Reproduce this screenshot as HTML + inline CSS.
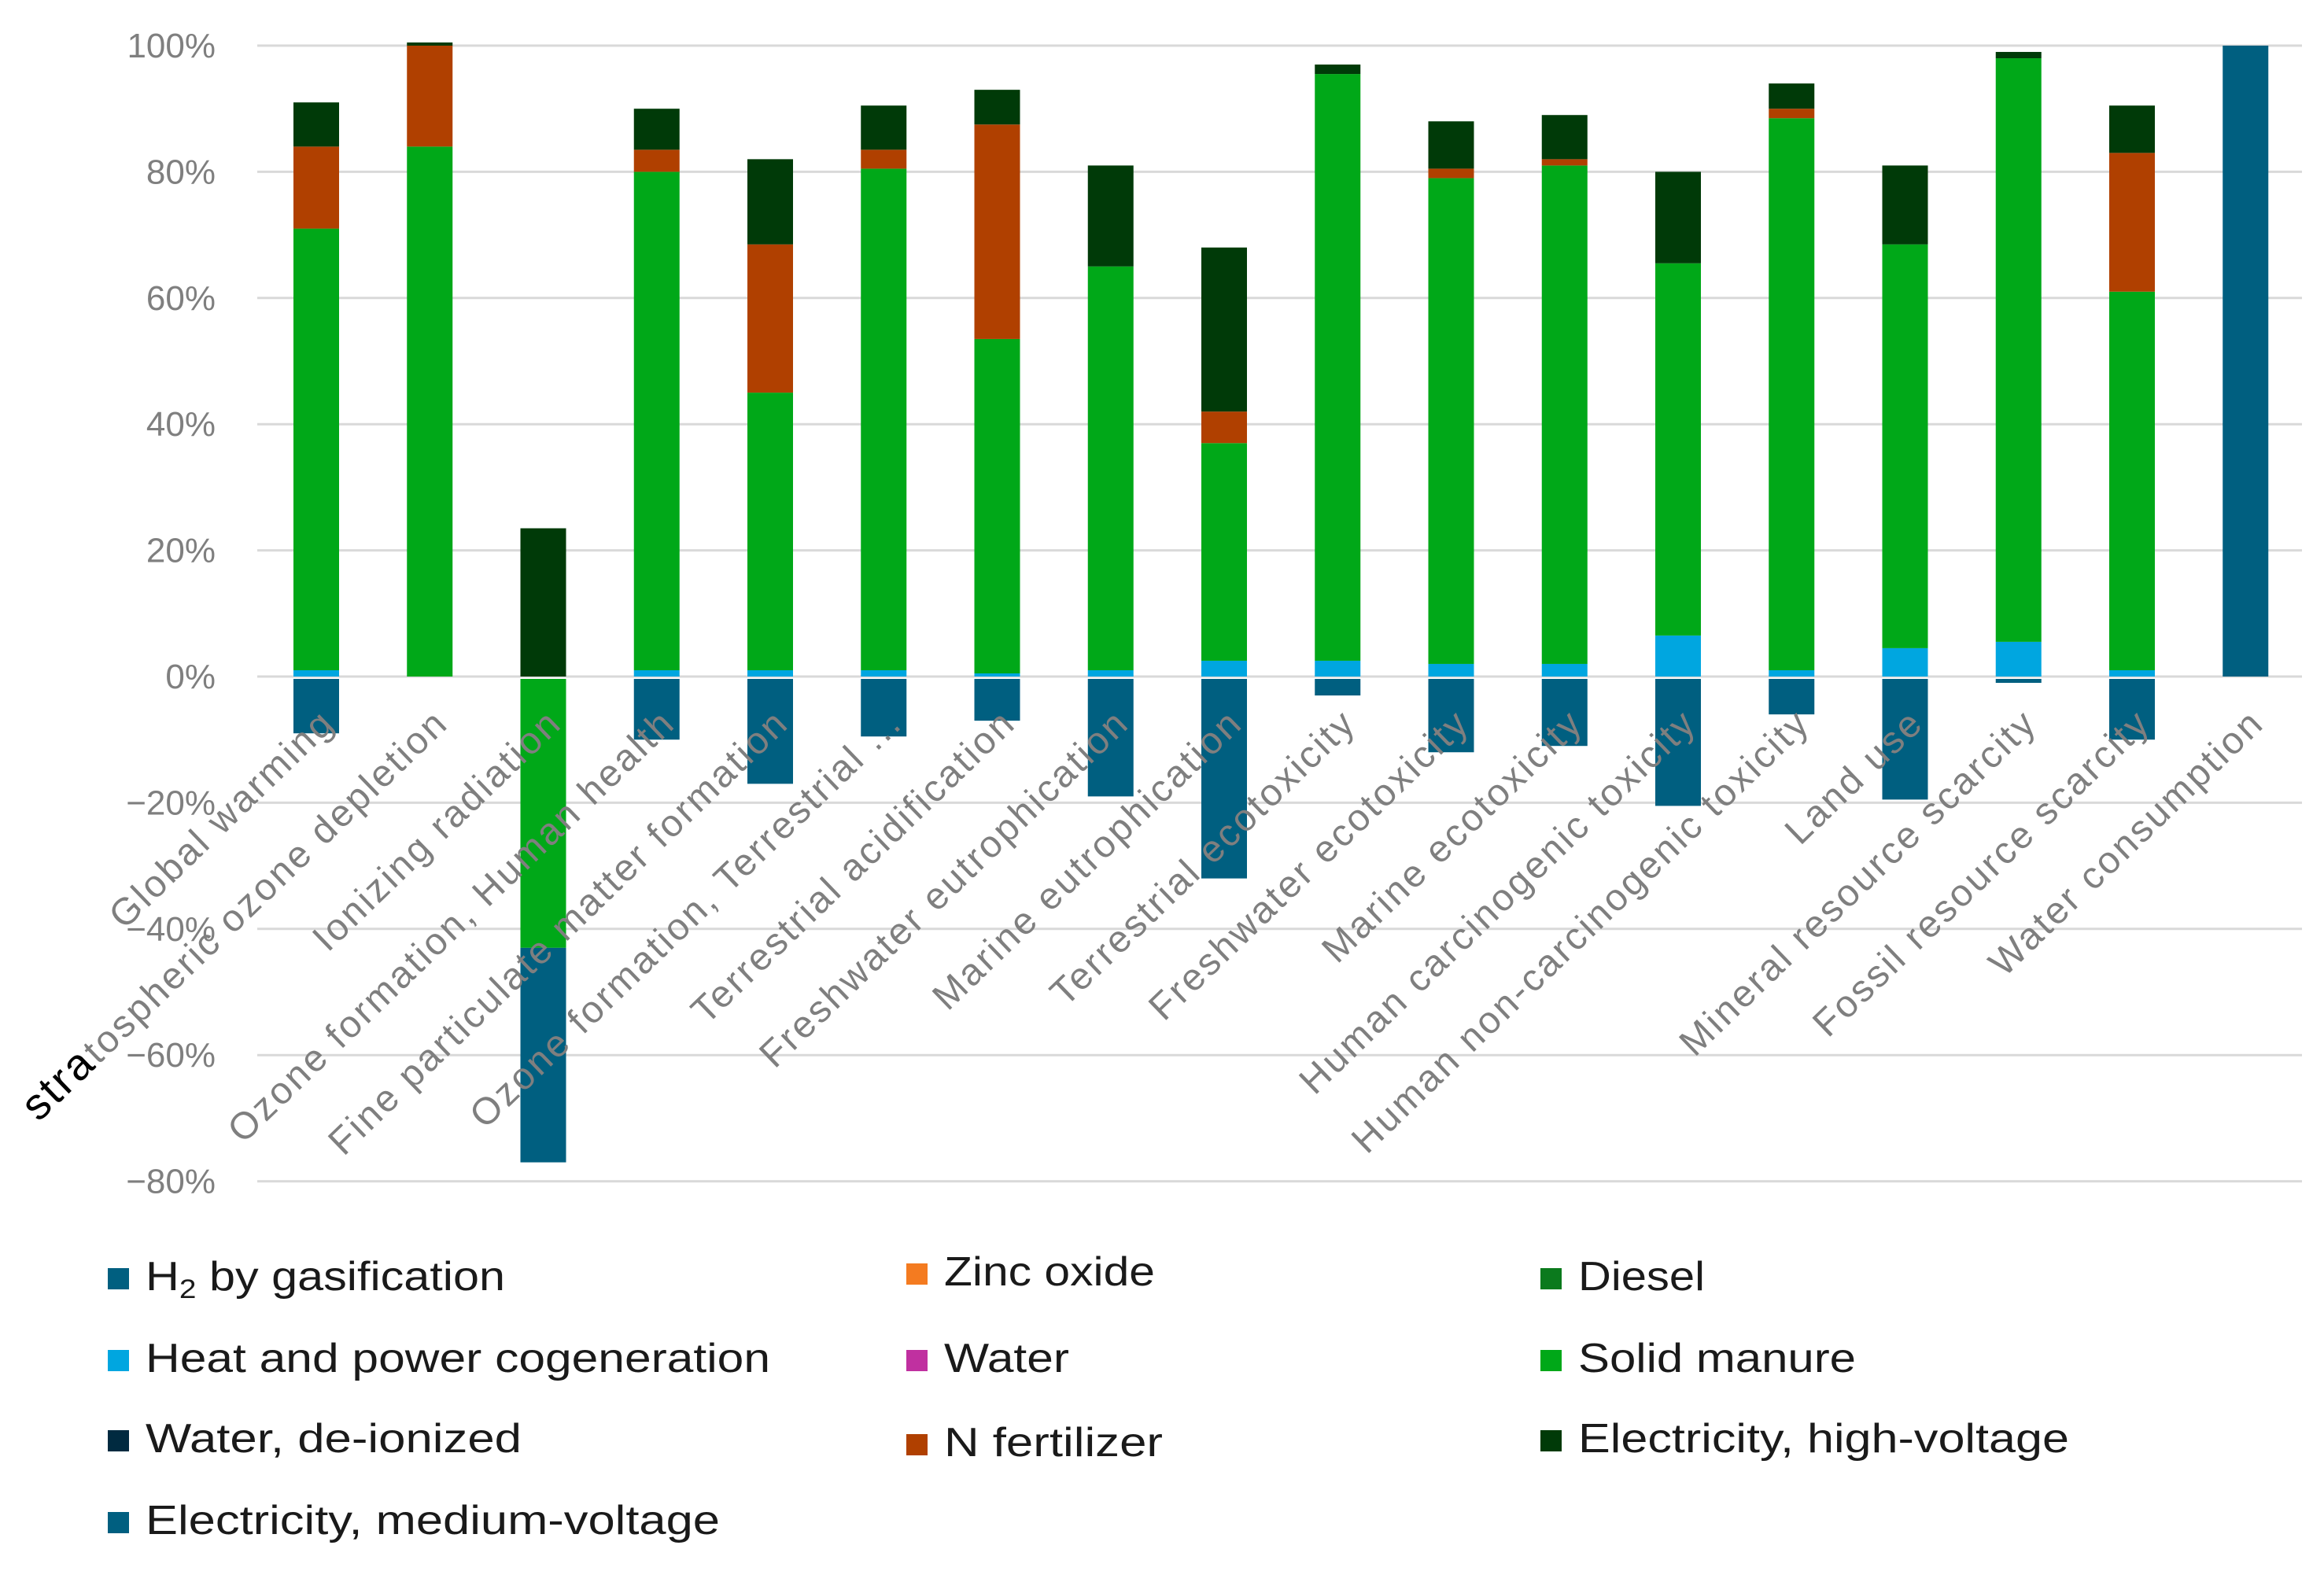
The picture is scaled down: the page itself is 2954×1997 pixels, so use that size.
<!DOCTYPE html>
<html><head><meta charset="utf-8"><style>
html,body{margin:0;padding:0;background:#fff;}
svg{display:block;font-family:"Liberation Sans",sans-serif;}
</style></head><body>
<svg id="chart" width="2954" height="1997" viewBox="0 0 2954 1997" xmlns="http://www.w3.org/2000/svg">
<g id="grid"></g>
<g id="yticks"></g>
<g id="bars"></g>
<g id="xlabels"></g>
<g id="legend"></g>
</svg>
<script>
const categories = ["Global warming","stratospheric ozone depletion","Ionizing radiation","Ozone formation, Human health","Fine particulate matter formation","Ozone formation, Terrestrial ...","Terrestrial acidification","Freshwater eutrophication","Marine eutrophication","Terrestrial ecotoxicity","Freshwater ecotoxicity","Marine ecotoxicity","Human carcinogenic toxicity","Human non-carcinogenic toxicity","Land use","Mineral resource scarcity","Fossil resource scarcity","Water consumption"];
const h2Gasification = [-9,0,-34,-10,-17,-9.5,-7,-19,-32,-3,-12,-11,-20.5,-6,-19.5,-1,-10,100];
const heatPower = [1,0,0,1,1,1,0.5,1,2.5,2.5,2,2,6.5,1,4.5,5.5,1,0];
const solidManure = [70,84,-43,79,44,79.5,53,64,34.5,93,77,79,59,87.5,64,92.5,60,0];
const nFertilizer = [13,16,0,3.5,23.5,3,34,0,5,0,1.5,1,0,1.5,0,0,22,0];
const elecHigh = [7,0.5,23.5,6.5,13.5,7,5.5,16,26,1.5,7.5,7,14.5,4,12.5,1,7.5,0];
const yTicks = [100,80,60,40,20,0,-20,-40,-60,-80];
const legendNames = ["H2 by gasification","Heat and power cogeneration","Water, de-ionized","Electricity, medium-voltage","Zinc oxide","Water","N fertilizer","Diesel","Solid manure","Electricity, high-voltage"];

const NS="http://www.w3.org/2000/svg";
const y0=860, perPct=8.02, x0=402, pitch=144.25, bw=58;
const yS=v=>y0-v*perPct;
const xS=i=>x0+i*pitch;
function mk(tag,attrs,parent){const e=document.createElementNS(NS,tag);for(const k in attrs)e.setAttribute(k,attrs[k]);parent.appendChild(e);return e;}

const grid=document.getElementById('grid'), yt=document.getElementById('yticks');
yTicks.forEach(t=>{
  const l=mk('line',{x1:327,x2:2926,y1:yS(t),y2:yS(t),stroke:'#d9d9d9','stroke-width':3},grid);
  
  
  const tx=mk('text',{x:274,y:yS(t)+15,'text-anchor':'end','font-size':44,fill:'#7f7f7f'},yt);
  tx.textContent=(t<0?'\u2212':'')+Math.abs(t)+'%';
  
  
});

const seriesPos=[[h2Gasification,'#005f80','h2'],[heatPower,'#00a6e0','cogen'],[solidManure,'#00a818','manure'],[nFertilizer,'#b04000','nfert'],[elecHigh,'#003a08','elec-high']];
const negOrder=[2,1,3,4,0];
const bars=document.getElementById('bars');
function drawSeg(i,v,a,b,col,nm){
  const top=Math.min(yS(a),yS(b)), h=Math.abs(yS(a)-yS(b));
  const off=(v<0&&a===0)?3:0;
  const r=mk('rect',{x:xS(i)-bw/2,y:top+off,width:bw,height:Math.max(h-off,1),fill:col},bars);
  
  
}
categories.forEach((c,i)=>{
  let pos=0,neg=0;
  seriesPos.forEach(([arr,col,nm])=>{
    const v=arr[i]; if(!(v>0)) return;
    drawSeg(i,v,pos,pos+v,col,nm); pos+=v;
  });
  negOrder.forEach(k=>{
    const [arr,col,nm]=seriesPos[k];
    const v=arr[i]; if(!(v<0)) return;
    drawSeg(i,v,neg,neg+v,col,nm); neg+=v;
  });
});

const xl=document.getElementById('xlabels');
categories.forEach((c,i)=>{
  const x=xS(i)+26, y=922;
  const t=mk('text',{x:x,y:y,'text-anchor':'end','font-size':48,fill:'#7f7f7f','letter-spacing':3,transform:`rotate(-44 ${x} ${y})`},xl);
  
  
  if(i===1){
    const s=mk('tspan',{fill:'#000','font-size':56},t); s.textContent='stra';
    const r=mk('tspan',{},t); r.textContent=c.slice(4);
  } else t.textContent=c;
});

const legendItems=[
 [0,137,1640,'#005f80',457],[1,137,1744,'#00a6e0',794],[2,137,1846,'#002a40',478],[3,137,1950,'#005f80',730],
 [4,1152,1634,'#f47b20',268],[5,1152,1744,'#c030a0',159],[6,1152,1851,'#b04000',278],
 [7,1958,1640,'#0b7a1d',161],[8,1958,1744,'#00a818',353],[9,1958,1846,'#003a08',624]];
const lg=document.getElementById('legend');
legendItems.forEach(([k,x,y,col,len])=>{
  const g=mk('g',{},lg);
  
  
  mk('rect',{x:x,y:y-28,width:27,height:27,fill:col},g);
  const t=mk('text',{x:x+48,y:y,'font-size':52,fill:'#1a1a1a',textLength:len,lengthAdjust:'spacingAndGlyphs'},g);
  if(k===0){t.textContent='H';const s=mk('tspan',{'font-size':34,dy:10},t);s.textContent='2';const r=mk('tspan',{dy:-10},t);r.textContent=' by gasification';}
  else t.textContent=legendNames[k];
});
</script>
</body></html>
